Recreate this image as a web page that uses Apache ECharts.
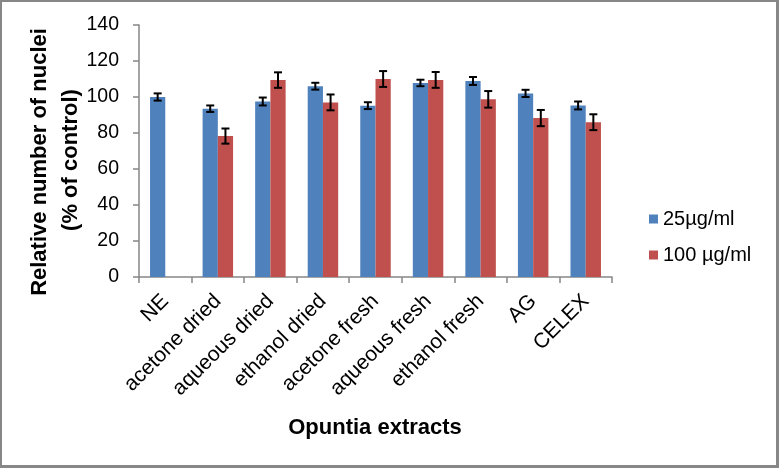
<!DOCTYPE html>
<html>
<head>
<meta charset="utf-8">
<script src="https://cdn.jsdelivr.net/npm/echarts@6/dist/echarts.min.js"></script>
<style>
html,body{margin:0;padding:0;background:#fff;}
#chart{width:779px;height:468px;}
</style>
</head>
<body>
<div id="chart"></div>
<script>
var categories = ['NE', 'acetone dried', 'aqueous dried', 'ethanol dried', 'acetone fresh', 'aqueous fresh', 'ethanol fresh', 'AG', 'CELEX'];
var series25 = [100, 93.5, 97.5, 106, 95.2, 107.8, 108.9, 102, 95.3];
var err25 = [2, 1.8, 2.2, 1.9, 1.9, 1.8, 2.2, 2, 2.2];
var series100 = [null, 78.3, 109.4, 97, 110, 109.5, 98.7, 88.3, 86];
var err100 = [null, 4.2, 4.3, 4.4, 4.4, 4.4, 4.6, 4.5, 4.4];
var seriesNames = ['25µg/ml', '100 µg/ml'];
var yTicks = [0, 20, 40, 60, 80, 100, 120, 140];
var yTitle = ['Relative number of nuclei', '(% of control)'];
var xTitle = 'Opuntia extracts';

var FONT = "'Liberation Sans', Arial, sans-serif";
var GAP = 0.42;

function errData(vals, errs) {
  var out = [];
  for (var i = 0; i < vals.length; i++) {
    if (vals[i] == null) continue;
    out.push([i, vals[i] - errs[i], vals[i] + errs[i]]);
  }
  return out;
}

function errRender(side) {
  return function (params, api) {
    var idx = api.value(0);
    var lo = api.coord([idx, api.value(1)]);
    var hi = api.coord([idx, api.value(2)]);
    var band = api.size([1, 0])[0];
    var bw = band * (1 - GAP) / 2;
    var x = lo[0] + side * bw / 2;
    var cap = 4;
    var st = { stroke: '#000', lineWidth: 2 };
    return {
      type: 'group',
      children: [
        { type: 'line', shape: { x1: x, y1: lo[1], x2: x, y2: hi[1] }, style: st },
        { type: 'line', shape: { x1: x - cap, y1: lo[1], x2: x + cap, y2: lo[1] }, style: st },
        { type: 'line', shape: { x1: x - cap, y1: hi[1], x2: x + cap, y2: hi[1] }, style: st }
      ]
    };
  };
}

var chart = echarts.init(document.getElementById('chart'), null, { renderer: 'canvas' });
chart.setOption({
  animation: false,
  backgroundColor: '#fff',
  textStyle: { fontFamily: FONT },
  grid: { left: 139, right: 167, top: 25, bottom: 191, containLabel: false },
  legend: {
    orient: 'vertical',
    left: 644,
    top: 204,
    itemWidth: 9,
    itemHeight: 9,
    itemGap: 16,
    icon: 'rect',
    data: seriesNames,
    textStyle: { fontSize: 20, color: '#000', fontFamily: FONT }
  },
  xAxis: {
    type: 'category',
    data: categories,
    axisLine: { show: true, lineStyle: { color: '#868686', width: 1.5 } },
    axisTick: { show: true, length: 6, alignWithLabel: false, lineStyle: { color: '#868686', width: 1.5 } },
    axisLabel: { rotate: 45, margin: 21, fontSize: 21, color: '#000', fontFamily: FONT, interval: 0 },
    splitLine: { show: false }
  },
  yAxis: {
    type: 'value',
    min: yTicks[0],
    max: yTicks[yTicks.length - 1],
    interval: 20,
    axisLine: { show: true, lineStyle: { color: '#868686', width: 1.5 } },
    axisTick: { show: true, length: 6, lineStyle: { color: '#868686', width: 1.5 } },
    axisLabel: { margin: 20, fontSize: 19.5, color: '#000', fontFamily: FONT },
    splitLine: { show: false }
  },
  series: [
    {
      name: seriesNames[0], type: 'bar', data: series25,
      barGap: '0%', barCategoryGap: (GAP * 100) + '%',
      itemStyle: { color: '#4F81BD' }
    },
    {
      name: seriesNames[1], type: 'bar', data: series100,
      barGap: '0%', barCategoryGap: (GAP * 100) + '%',
      itemStyle: { color: '#C0504D' }
    },
    {
      type: 'custom', renderItem: errRender(-1), data: errData(series25, err25),
      encode: { x: 0, y: [1, 2] }, z: 10, silent: true
    },
    {
      type: 'custom', renderItem: errRender(1), data: errData(series100, err100),
      encode: { x: 0, y: [1, 2] }, z: 10, silent: true
    }
  ],
  graphic: [
    { type: 'text', x: 40, y: 162, rotation: Math.PI / 2,
      style: { text: yTitle[0], font: 'bold 22px ' + FONT, fill: '#000', textAlign: 'center', textVerticalAlign: 'middle' } },
    { type: 'text', x: 71, y: 160, rotation: Math.PI / 2,
      style: { text: yTitle[1], font: 'bold 22px ' + FONT, fill: '#000', textAlign: 'center', textVerticalAlign: 'middle' } },
    { type: 'text', x: 375, y: 428,
      style: { text: xTitle, font: 'bold 22px ' + FONT, fill: '#000', textAlign: 'center', textVerticalAlign: 'middle' } },
    { type: 'rect', shape: { x: 0, y: 0, width: 2, height: 468 }, style: { fill: '#878787' } },
    { type: 'rect', shape: { x: 0, y: 0, width: 779, height: 2 }, style: { fill: '#878787' } },
    { type: 'rect', shape: { x: 776, y: 0, width: 3, height: 468 }, style: { fill: '#878787' } },
    { type: 'rect', shape: { x: 0, y: 465, width: 779, height: 3 }, style: { fill: '#878787' } }
  ]
});
</script>
</body>
</html>
